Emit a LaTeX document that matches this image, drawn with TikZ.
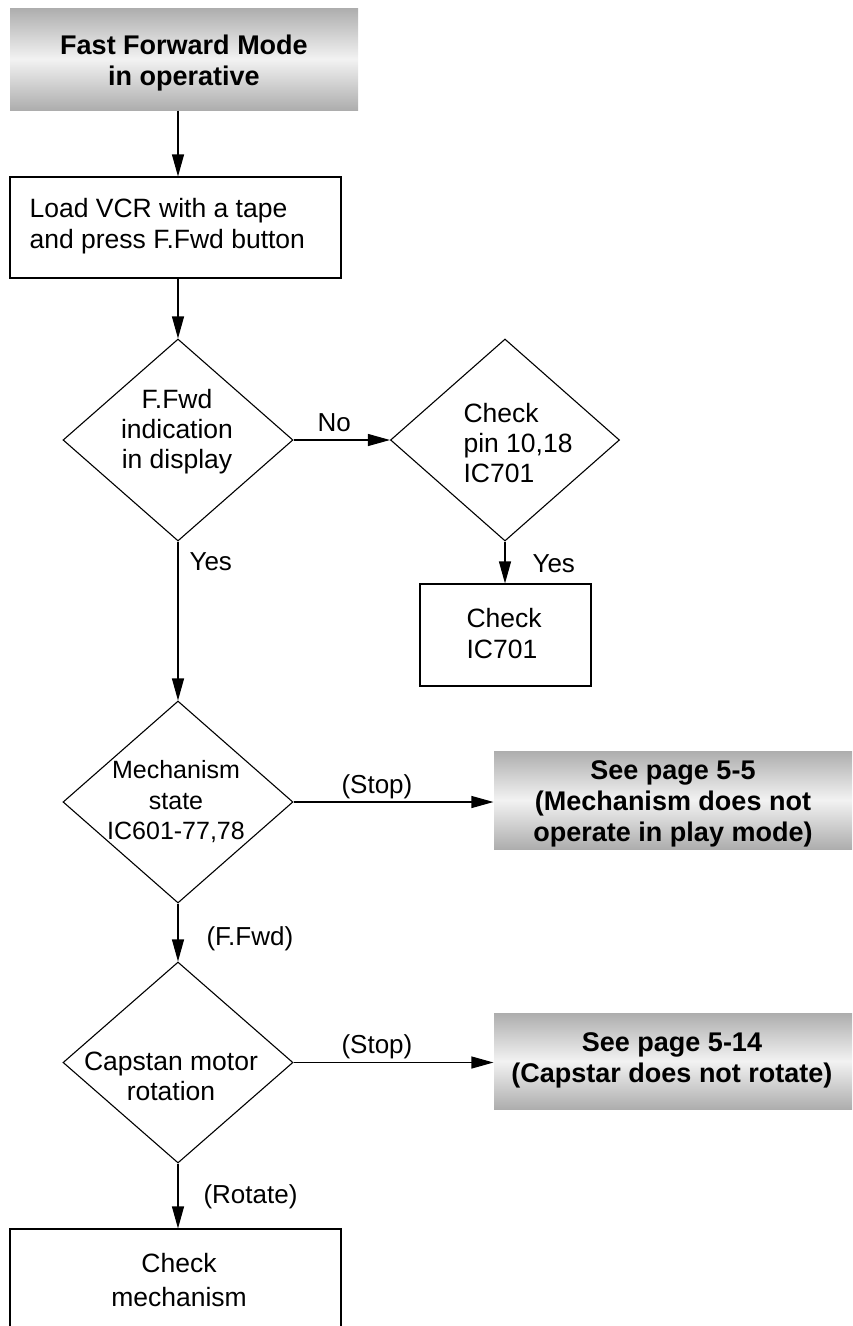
\documentclass[tikz,border=0pt]{standalone}
\usepackage{fontspec}
\setmainfont{Liberation Sans}
\usetikzlibrary{shapes.geometric,arrows.meta}
\begin{document}
\begin{tikzpicture}[x=1pt,y=-1pt,
  line width=1.1pt,
  box/.style={draw, rectangle, inner sep=0pt},
  gbox/.style={rectangle, inner sep=0pt, top color=black!32, bottom color=black!32, middle color=black!5},
  dia/.style={draw, diamond, inner sep=0pt, minimum width=230pt, minimum height=202pt},
  txt/.style={font=\fontsize{26.5pt}{30pt}\selectfont, inner sep=0pt, align=center},
  ltxt/.style={font=\fontsize{26.5pt}{31pt}\selectfont, inner sep=0pt, align=left, anchor=west},
  btxt/.style={font=\fontsize{27pt}{31pt}\selectfont\bfseries, inner sep=0pt, align=center},
  lbl/.style={font=\fontsize{26pt}{30pt}\selectfont, inner sep=0pt, anchor=base west},
  arr/.style={-{Triangle[length=22pt,width=12pt]}}
]
\useasboundingbox (0,0) rectangle (852,1326);
\clip (0,0) rectangle (852,1326);

% nodes
\node[gbox, minimum width=348pt, minimum height=102pt] (top) at (184,59) {};
\node[btxt] (toptxt) at (184,63) {Fast Forward Mode\\in operative};

\node[box, minimum width=331pt, minimum height=101pt] (load) at (175.5,227.5) {};
\node[ltxt] (loadtxt) at (29,226) {Load VCR with a tape\\and press F.Fwd button};

\node[dia] (d1) at (178,440) {};
\node[txt] (d1txt) at (177,432) {F.Fwd\\indication\\in display};

\node[dia, minimum width=229pt] (d2) at (505,440) {};
\node[ltxt, font=\fontsize{26.5pt}{30pt}\selectfont] (d2txt) at (463,443) {Check\\pin 10,18\\IC701};

\node[box, minimum width=171pt, minimum height=102pt] (ic) at (505.5,635) {};
\node[ltxt] (ictxt) at (466,633.5) {Check\\IC701};

\node[dia] (d3) at (178,802) {};
\node[txt, font=\fontsize{25pt}{30.5pt}\selectfont] (d3txt) at (176,802) {Mechanism\\state\\IC601-77,78};

\node[gbox, minimum width=358pt, minimum height=98pt] (gb2) at (673,800) {};
\node[btxt] (gb2txt) at (673,804) {See page 5-5\\(Mechanism does not\\operate in play mode)};

\node[dia, minimum height=201pt] (d4) at (178,1062.5) {};
\node[txt] (d4txt) at (171,1076) {Capstan motor\\rotation};

\node[gbox, minimum width=358pt, minimum height=96pt] (gb3) at (673,1061) {};
\node[btxt] (gb3txt) at (672,1060) {See page 5-14\\(Capstar does not rotate)};

\node[box, minimum width=331pt, minimum height=122pt] (last) at (175.5,1290) {};
\node[txt, font=\fontsize{26.5pt}{34pt}\selectfont] (lasttxt) at (179,1280) {Check\\mechanism};

% connectors
\draw[arr] (top.south -| d1.north) -- (load.north -| d1.north);
\draw[arr] (load.south -| d1.north) -- (d1.north);
\draw[arr] (d1.east) -- (d2.west);
\draw[arr] (d2.south) -- (ic.north -| d2.south);
\draw[arr] (d1.south) -- (d3.north);
\draw[arr] (d3.east) -- (d3.east -| gb2.west);
\draw[arr] (d3.south) -- (d4.north);
\draw[arr] (d4.east) -- (d4.east -| gb3.west);
\draw[arr] (d4.south) -- (last.north -| d4.south);

% labels
\node[lbl] (lno) at (317,431) {No};
\node[lbl] (lyes1) at (189,570) {Yes};
\node[lbl] (lyes2) at (532,572) {Yes};
\node[lbl] (lstop1) at (341,793) {(Stop)};
\node[lbl] (lffwd) at (206,945) {(F.Fwd)};
\node[lbl] (lstop2) at (341,1053) {(Stop)};
\node[lbl] (lrot) at (203,1203) {(Rotate)};
\end{tikzpicture}
\end{document}
